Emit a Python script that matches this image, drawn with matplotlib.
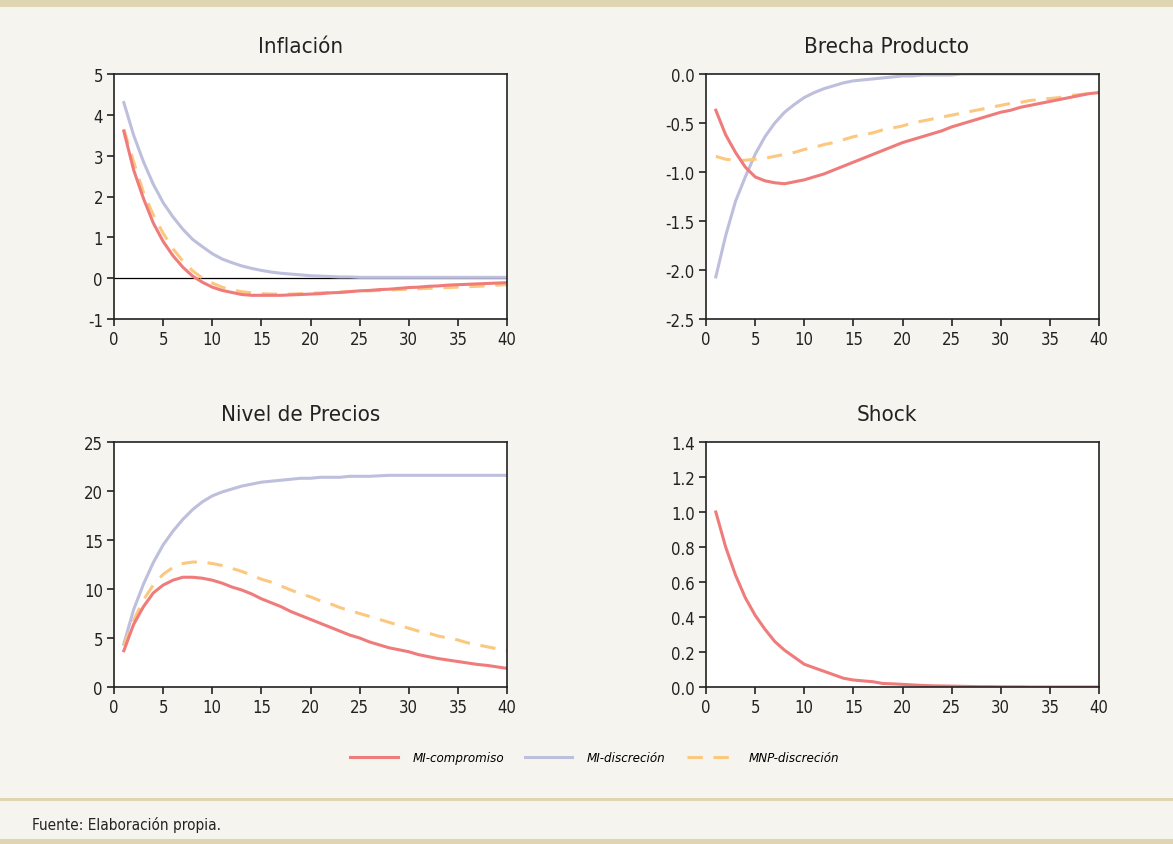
import matplotlib

matplotlib.use("Agg")
import matplotlib.pyplot as plt
from matplotlib.lines import Line2D

plt.rcParams["font.family"] = ["DejaVu Sans"]
plt.rcParams["font.stretch"] = "condensed"

periods = list(range(1, 41))
series_names = ["MI-compromiso", "MI-discreción", "MNP-discreción"]

infl_compromiso = [3.6, 2.65, 1.95, 1.35, 0.9, 0.55, 0.27, 0.05, -0.1, -0.22,
                   -0.3, -0.35, -0.4, -0.42, -0.42, -0.42, -0.42, -0.41, -0.4, -0.39,
                   -0.38, -0.36, -0.35, -0.33, -0.31, -0.3, -0.28, -0.27, -0.25, -0.23,
                   -0.22, -0.2, -0.19, -0.17, -0.16, -0.15, -0.14, -0.13, -0.12, -0.11]
infl_discrecion = [4.3, 3.5, 2.85, 2.3, 1.85, 1.5, 1.2, 0.95, 0.77, 0.6,
                   0.47, 0.38, 0.3, 0.24, 0.19, 0.15, 0.12, 0.1, 0.08, 0.06,
                   0.05, 0.04, 0.03, 0.03, 0.02, 0.02, 0.02, 0.02, 0.02, 0.02,
                   0.02, 0.02, 0.02, 0.02, 0.02, 0.02, 0.02, 0.02, 0.02, 0.02]
infl_mnp = [3.65, 2.85, 2.1, 1.55, 1.1, 0.72, 0.42, 0.18, 0.0, -0.12,
            -0.22, -0.29, -0.33, -0.36, -0.38, -0.39, -0.39, -0.39, -0.38, -0.37,
            -0.36, -0.35, -0.34, -0.33, -0.32, -0.31, -0.3, -0.29, -0.28, -0.27,
            -0.26, -0.25, -0.24, -0.23, -0.22, -0.21, -0.2, -0.19, -0.17, -0.16]

gap_compromiso = [-0.37, -0.62, -0.8, -0.95, -1.05, -1.09, -1.11, -1.12, -1.1, -1.08,
                  -1.05, -1.02, -0.98, -0.94, -0.9, -0.86, -0.82, -0.78, -0.74, -0.7,
                  -0.67, -0.64, -0.61, -0.58, -0.54, -0.51, -0.48, -0.45, -0.42, -0.39,
                  -0.37, -0.34, -0.32, -0.3, -0.28, -0.26, -0.24, -0.22, -0.2, -0.19]
gap_discrecion = [-2.07, -1.65, -1.3, -1.05, -0.82, -0.64, -0.5, -0.39, -0.31, -0.24,
                  -0.19, -0.15, -0.12, -0.09, -0.07, -0.06, -0.05, -0.04, -0.03, -0.02,
                  -0.02, -0.01, -0.01, -0.01, -0.01, 0.0, 0.0, 0.0, 0.0, 0.0,
                  0.0, 0.0, 0.0, 0.0, 0.0, 0.0, 0.0, 0.0, 0.0, 0.0]
gap_mnp = [-0.84, -0.87, -0.88, -0.88, -0.87, -0.86, -0.84, -0.82, -0.8, -0.77,
           -0.75, -0.72, -0.7, -0.67, -0.64, -0.62, -0.6, -0.57, -0.55, -0.53,
           -0.5, -0.48, -0.46, -0.44, -0.42, -0.4, -0.38, -0.36, -0.34, -0.32,
           -0.3, -0.29, -0.27, -0.26, -0.25, -0.24, -0.22, -0.21, -0.2, -0.19]

price_compromiso = [3.7, 6.4, 8.2, 9.6, 10.4, 10.9, 11.2, 11.2, 11.1, 10.9,
                    10.6, 10.2, 9.9, 9.5, 9.0, 8.6, 8.2, 7.7, 7.3, 6.9,
                    6.5, 6.1, 5.7, 5.3, 5.0, 4.6, 4.3, 4.0, 3.8, 3.6,
                    3.3, 3.1, 2.9, 2.75, 2.6, 2.45, 2.3, 2.2, 2.05, 1.9]
price_discrecion = [4.4, 7.9, 10.5, 12.7, 14.5, 15.9, 17.1, 18.1, 18.9, 19.5,
                    19.9, 20.2, 20.5, 20.7, 20.9, 21.0, 21.1, 21.2, 21.3, 21.3,
                    21.4, 21.4, 21.4, 21.5, 21.5, 21.5, 21.55, 21.6, 21.6, 21.6,
                    21.6, 21.6, 21.6, 21.6, 21.6, 21.6, 21.6, 21.6, 21.6, 21.6]
price_mnp = [4.2, 6.8, 8.9, 10.4, 11.5, 12.2, 12.6, 12.75, 12.75, 12.6,
             12.4, 12.1, 11.8, 11.4, 11.0, 10.7, 10.3, 9.9, 9.5, 9.2,
             8.8, 8.5, 8.1, 7.8, 7.5, 7.2, 6.9, 6.6, 6.3, 6.0,
             5.7, 5.5, 5.2, 5.0, 4.8, 4.5, 4.3, 4.1, 3.9, 3.7]

shock = [1.0, 0.8, 0.64, 0.51, 0.41, 0.33, 0.26, 0.21, 0.17, 0.13,
         0.11, 0.09, 0.07, 0.05, 0.04, 0.035, 0.03, 0.02, 0.018, 0.015,
         0.012, 0.009, 0.007, 0.006, 0.005, 0.004, 0.003, 0.002, 0.002, 0.001,
         0.001, 0.001, 0.0, 0.0, 0.0, 0.0, 0.0, 0.0, 0.0, 0.0]

RED = "#ef7b7b"
LAVENDER = "#bdbfdc"
ORANGE = "#fcc880"
BG = "#f5f4ef"
TAN = "#e0d5b3"

fig = plt.figure(figsize=(11.73, 8.45), dpi=100, facecolor=BG)

# decorative bands
fig.add_artist(plt.Rectangle((0, 1 - 8 / 845), 1, 8 / 845, transform=fig.transFigure,
                             color=TAN, lw=0))
fig.add_artist(plt.Rectangle((0, 1 - 802 / 845), 1, 3 / 845, transform=fig.transFigure,
                             color=TAN, lw=0))
fig.add_artist(plt.Rectangle((0, 0), 1, 5 / 845, transform=fig.transFigure,
                             color=TAN, lw=0))


def make_axes(left_px, top_px, title, title_x, ylim, yticks, fmt):
    width = 393 / 1173
    height = 245 / 845
    ax = fig.add_axes([left_px / 1173, 1 - (top_px + 245) / 845, width, height])
    ax.set_facecolor("white")
    ax.set_xlim(0, 40)
    ax.set_xticks(range(0, 41, 5))
    ax.set_ylim(*ylim)
    ax.set_yticks(yticks)
    ax.set_yticklabels([fmt.format(v) for v in yticks])
    ax.tick_params(direction="out", length=5, width=1.2, labelsize=12, colors="#222222",
                   pad=3)
    for spine in ax.spines.values():
        spine.set_linewidth(1.2)
        spine.set_color("#222222")
    ax.set_title(title, fontsize=16, pad=16, color="#222222", x=title_x)
    return ax


dash = (0, (5, 3.5))

ax = make_axes(114, 75, "Inflación", 0.475, (-1, 5), list(range(-1, 6)), "{:d}")
ax.axhline(0, color="black", lw=0.9)
ax.plot(periods, infl_discrecion, color=LAVENDER, lw=2.2)
ax.plot(periods, infl_mnp, color=ORANGE, lw=2.2, linestyle=dash)
ax.plot(periods, infl_compromiso, color=RED, lw=2.2)

ax = make_axes(706, 75, "Brecha Producto", 0.46, (-2.5, 0.0),
               [-2.5, -2.0, -1.5, -1.0, -0.5, 0.0], "{:.1f}")
ax.plot(periods, gap_discrecion, color=LAVENDER, lw=2.2)
ax.plot(periods, gap_mnp, color=ORANGE, lw=2.2, linestyle=dash)
ax.plot(periods, gap_compromiso, color=RED, lw=2.2)

ax = make_axes(114, 443, "Nivel de Precios", 0.475, (0, 25), list(range(0, 26, 5)), "{:d}")
ax.plot(periods, price_discrecion, color=LAVENDER, lw=2.2)
ax.plot(periods, price_mnp, color=ORANGE, lw=2.2, linestyle=dash)
ax.plot(periods, price_compromiso, color=RED, lw=2.2)

ax = make_axes(706, 443, "Shock", 0.46, (0, 1.4),
               [0.0, 0.2, 0.4, 0.6, 0.8, 1.0, 1.2, 1.4], "{:.1f}")
ax.plot(periods, shock, color=RED, lw=2.2)

handles = [
    Line2D([], [], color=RED, lw=2.2),
    Line2D([], [], color=LAVENDER, lw=2.2),
    Line2D([], [], color=ORANGE, lw=2.2, linestyle=dash),
]
fig.legend(handles, series_names, loc="center", bbox_to_anchor=(0.507, 1 - 759 / 845),
           ncol=3, frameon=False, handlelength=3.6, handletextpad=1.1, columnspacing=1.6,
           prop={"style": "italic", "size": 9.5, "stretch": "condensed"})

fig.text(32 / 1173, 1 - 825 / 845, "Fuente: Elaboración propia.", fontsize=11,
         va="center", ha="left", color="#222222")

fig.savefig("out.png", dpi=100, facecolor=BG)
